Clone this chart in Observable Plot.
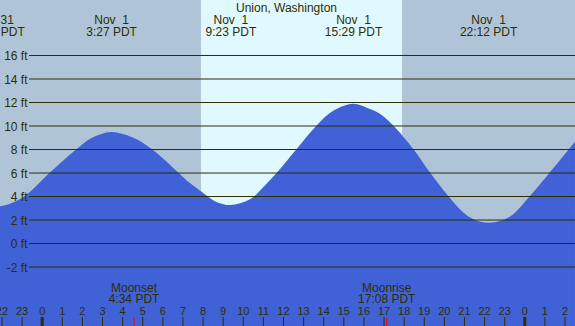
<!DOCTYPE html>
<html>
<head>
<meta charset="utf-8">
<script src="https://cdn.jsdelivr.net/npm/d3@7"></script>
<script src="https://cdn.jsdelivr.net/npm/@observablehq/plot@0.6"></script>
<style>
  html, body { margin: 0; padding: 0; background: #b0c4d8; }
  #chart svg { display: block; }
</style>
</head>
<body>
<div id="chart"></div>
<script>
// ---- data (hours are relative to midnight starting Nov 1, PDT) ----
const title = "Union, Washington";

const tideHours = [-2.29, -1.58, -0.84, 0.41, 1.74, 2.5, 3.45, 4.5, 5.47, 6.79, 7.13, 7.92, 8.45, 8.78, 9.38, 10.36, 11.1, 11.7, 12.68, 13.67, 14.5, 15.48, 16.2, 16.82, 17.48, 18.48, 19.31, 20.22, 21.0, 21.55, 22.2, 22.95, 23.45, 24.28, 25.27, 26.52];
const tideFeet  = [3.05, 3.35, 4.0, 6.0, 8.0, 8.95, 9.45, 9.0, 8.0, 6.0, 5.45, 4.4, 3.72, 3.43, 3.23, 3.72, 4.9, 6.0, 8.0, 10.0, 11.25, 11.85, 11.5, 11.0, 10.0, 8.0, 6.0, 4.0, 2.55, 1.96, 1.73, 1.96, 2.45, 4.0, 6.0, 8.62];

const eventHours = [-2.29, 3.45, 9.383, 15.483, 22.2];
const eventDates = ["Oct 31", "Nov  1", "Nov  1", "Nov  1", "Nov  1"];
const eventTimes = ["21:43 PDT", "3:27 PDT", "9:23 PDT", "15:29 PDT", "22:12 PDT"];

const sunriseHour = 7.92;
const sunsetHour = 17.92;

const moonHours = [4.567, 17.133];
const moonNames = ["Moonset", "Moonrise"];
const moonTimes = ["4:34 PDT", "17:08 PDT"];

const hourTicks  = [-2, -1, 0, 1, 2, 3, 4, 5, 6, 7, 8, 9, 10, 11, 12, 13, 14, 15, 16, 17, 18, 19, 20, 21, 22, 23, 24, 25, 26];
const hourLabels = ["22", "23", "0", "1", "2", "3", "4", "5", "6", "7", "8", "9", "10", "11", "12", "13", "14", "15", "16", "17", "18", "19", "20", "21", "22", "23", "0", "1", "2"];
const midnightHours = [0, 24];

const feetTicks  = [-2, 0, 2, 4, 6, 8, 10, 12, 14, 16];
const feetLabels = ["-2 ft", "0 ft", "2 ft", "4 ft", "6 ft", "8 ft", "10 ft", "12 ft", "14 ft", "16 ft"];

// ---- chart ----
const tide = tideHours.map((h, i) => ({h, ft: tideFeet[i]}));
const events = eventHours.map((h, i) => ({h, label: eventDates[i] + "\n" + eventTimes[i]}));
const moons = moonHours.map((h, i) => ({h, label: moonNames[i] + "\n" + moonTimes[i]}));
const daylight = [{start: sunriseHour, end: sunsetHour}];

const ink = "#2e2e00";
const yMin = -7.06, yMax = 20.68;
const font = "'Liberation Sans', Arial, sans-serif";

const chart = Plot.plot({
  width: 575,
  height: 326,
  marginLeft: 29,
  marginRight: 0,
  marginTop: 0,
  marginBottom: 0,
  style: {background: "#b0c4d8", fontFamily: font, fontSize: "12px", color: ink},
  x: {domain: [-0.6316, 26.522], axis: null},
  y: {domain: [yMin, yMax], axis: null},
  marks: [
    Plot.rect(daylight, {x1: "start", x2: "end", fill: "#e0f8ff"}),
    Plot.areaY(tide, {x: "h", y1: yMin, y2: "ft", fill: "#4161d6", curve: "catmull-rom"}),
    Plot.ruleY(feetTicks, {y: d => d, stroke: ink, strokeWidth: 1}),
    Plot.text(feetTicks, {
      y: d => d, text: (d, i) => feetLabels[i],
      frameAnchor: "left", textAnchor: "end", lineAnchor: "middle",
      dx: -2, dy: 1, fill: ink, fontSize: 12
    }),
    Plot.text([title], {
      text: d => d, frameAnchor: "top", lineAnchor: "top",
      dx: -16, dy: 2.8, fill: ink, fontSize: 12
    }),
    Plot.text(events, {
      x: "h", text: "label", frameAnchor: "top", lineAnchor: "top",
      dy: 15.5, lineHeight: 0.98, fill: ink, fontSize: 12
    }),
    Plot.text(moons, {
      x: "h", text: "label", frameAnchor: "top", lineAnchor: "top",
      dy: 283.8, lineHeight: 0.92, fill: ink, fontSize: 12
    }),
    Plot.text(hourTicks, {
      x: d => d, text: (d, i) => hourLabels[i], frameAnchor: "top", lineAnchor: "top",
      dy: 306.7, fill: ink, fontSize: 11
    }),
    Plot.ruleX(hourTicks, {x: d => d, insetTop: 317, stroke: ink, strokeWidth: 1}),
    Plot.ruleX(midnightHours, {x: d => d, insetTop: 317, stroke: ink, strokeWidth: 3}),
    Plot.ruleX(moonHours, {x: d => d, insetTop: 318, stroke: "#ff0000", strokeWidth: 1})
  ]
});

document.getElementById("chart").appendChild(chart);
</script>
</body>
</html>
